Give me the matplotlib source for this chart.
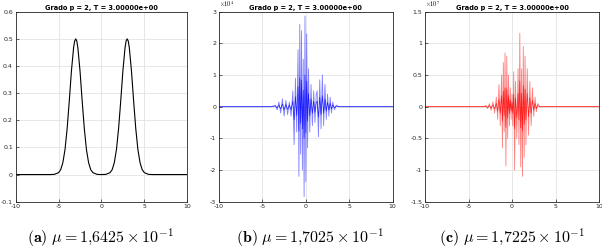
import numpy as np
import matplotlib
matplotlib.use("Agg")
import matplotlib.pyplot as plt

plt.rcParams['mathtext.fontset'] = 'cm'

title = "Grado p = 2, T = 3.00000e+00"
xticks = [-10, -5, 0, 5, 10]

# (a) two bumps
xa = [-10, -6, -5.5, -5, -4.75, -4.5, -4.25, -4, -3.75, -3.5, -3.25, -3.125, -3, -2.875, -2.75,
      -2.5, -2.25, -2, -1.75, -1.5, -1.25, -1, -0.5, 0, 0.5, 1, 1.25, 1.5, 1.75, 2, 2.25, 2.5,
      2.75, 2.875, 3, 3.125, 3.25, 3.5, 3.75, 4, 4.25, 4.5, 4.75, 5, 5.5, 6, 10]
ya = [0, 0, 0.0006, 0.007, 0.018, 0.044, 0.092, 0.170, 0.272, 0.382, 0.467, 0.492, 0.5, 0.492, 0.467,
      0.382, 0.272, 0.170, 0.092, 0.044, 0.018, 0.007, 0.0006, 0, 0.0006, 0.007, 0.018, 0.044, 0.092,
      0.170, 0.272, 0.382, 0.467, 0.492, 0.5, 0.492, 0.467, 0.382, 0.272, 0.170, 0.092, 0.044, 0.018,
      0.007, 0.0006, 0, 0]
yticks_a = [-0.1, 0, 0.1, 0.2, 0.3, 0.4, 0.5, 0.6]

# (b) values in units of 1e4
xb = [-10, -6, -4, -3.5, -3.3, -3.1, -2.9, -2.7, -2.5, -2.3, -2.1, -1.9, -1.7, -1.5, -1.35, -1.2,
      -1.05, -0.9, -0.8, -0.7, -0.6, -0.5, -0.4, -0.3, -0.2, -0.1, 0.0, 0.1, 0.2, 0.3, 0.45, 0.6,
      0.75, 0.9, 1.05, 1.2, 1.3, 1.45, 1.6, 1.75, 1.9, 2.05, 2.2, 2.35, 2.5, 2.65, 2.8, 2.95, 3.1,
      3.3, 3.5, 3.8, 5.8, 10]
yb = [0, 0, 0, 0.05, -0.1, 0.15, -0.2, 0.25, -0.3, 0.2, -0.25, 0.15, -0.3, 0.5, -1.2, 0.9,
      -0.8, 1.8, -2.2, 2.6, -1.5, 2.4, -2.0, 1.5, -2.84, 2.86, -2.37, 2.3, -1.3, 1.2, -0.8, 0.7,
      -0.6, 0.5, -0.5, 0.4, 0.5, -0.95, 0.85, -0.7, 1.0, -0.6, 0.7, -0.4, 0.4, -0.3, 0.3, -0.2, 0.15,
      -0.1, 0.05, 0, 0, 0]
yticks_b = [-3, -2, -1, 0, 1, 2, 3]

# (c) values in units of 1e7
xc = [-10, -5, -3.2, -3, -2.8, -2.6, -2.4, -2.2, -2.0, -1.8, -1.65, -1.5, -1.35, -1.2, -1.1, -1.0,
      -0.9, -0.8, -0.7, -0.6, -0.5, -0.4, -0.3, -0.2, -0.1, 0.0, 0.1, 0.2, 0.3, 0.4, 0.55, 0.7, 0.8,
      0.9, 1.0, 1.1, 1.2, 1.3, 1.4, 1.5, 1.6, 1.75, 1.9, 2.05, 2.2, 2.35, 2.5, 2.65, 2.8, 2.95, 3.2,
      5.5, 10]
yc = [0, 0, 0, 0.02, -0.03, 0.05, -0.06, 0.08, -0.1, 0.15, -0.2, 0.35, -0.3, 0.5, -0.65, 0.7,
      -0.4, 0.85, -0.94, 0.8, -0.5, 0.5, -0.3, 0.3, -0.2, 0.2, -0.3, 0.55, -1.0, 0.4, -0.5, 0.6, -0.6,
      1.16, -0.95, 0.6, -1.1, 0.95, -0.8, 0.8, -0.6, 0.6, -0.45, 0.4, -0.3, 0.3, -0.15, 0.15, -0.08, 0.05, 0,
      0, 0]
yticks_c = [-1.5, -1, -0.5, 0, 0.5, 1, 1.5]

captions = [r"$\mathbf{(a)}\ \mu = 1{,}6425 \times 10^{-1}$",
            r"$\mathbf{(b)}\ \mu = 1{,}7025 \times 10^{-1}$",
            r"$\mathbf{(c)}\ \mu = 1{,}7225 \times 10^{-1}$"]


def fmt(v):
    s = ("%g" % v)
    return s


fig = plt.figure(figsize=(6.02, 2.5), dpi=100)
lefts = [15.7, 219, 425]
widths = [171.5, 173.7, 174]
cap_x = [100, 310, 512]
data = [(xa, ya, yticks_a, 'black', None), (xb, yb, yticks_b, 'blue', r"$\times10^{4}$"),
        (xc, yc, yticks_c, 'red', r"$\times10^{7}$")]

for i, (x, y, yt, col, expo) in enumerate(data):
    ax = fig.add_axes([lefts[i] / 602, 48.3 / 250, widths[i] / 602, 190 / 250])
    if i == 0:
        ax.plot(x, y, color=col, lw=0.8)
    else:
        ax.plot(x, y, color=col, lw=0.6, alpha=0.5)
        ax.plot(x, np.array(y) * 0.35, color=col, lw=0.5, alpha=0.8)
    ax.set_xlim(-10, 10)
    ax.set_ylim(yt[0], yt[-1])
    ax.set_xticks(xticks)
    ax.set_xticklabels([fmt(v) for v in xticks])
    ax.set_yticks(yt)
    ax.set_yticklabels([fmt(v) for v in yt])
    ax.grid(True, color='#e3e3e3', lw=0.6)
    ax.set_axisbelow(True)
    ax.tick_params(direction='in', length=2, width=0.5, labelsize=4.5, pad=2, colors='#262626')
    for s in ax.spines.values():
        s.set_linewidth(0.6)
        s.set_color('#262626')
    ax.set_title(title, fontsize=5.3, fontweight='bold', fontstretch='condensed', pad=1.5)
    if expo:
        ax.text(0, 1.015, expo, transform=ax.transAxes, fontsize=4.5, ha='left', va='bottom')
    fig.text(cap_x[i] / 602, 12 / 250, captions[i], ha='center', va='center', fontsize=11.5)

fig.savefig("out.png", dpi=100)
